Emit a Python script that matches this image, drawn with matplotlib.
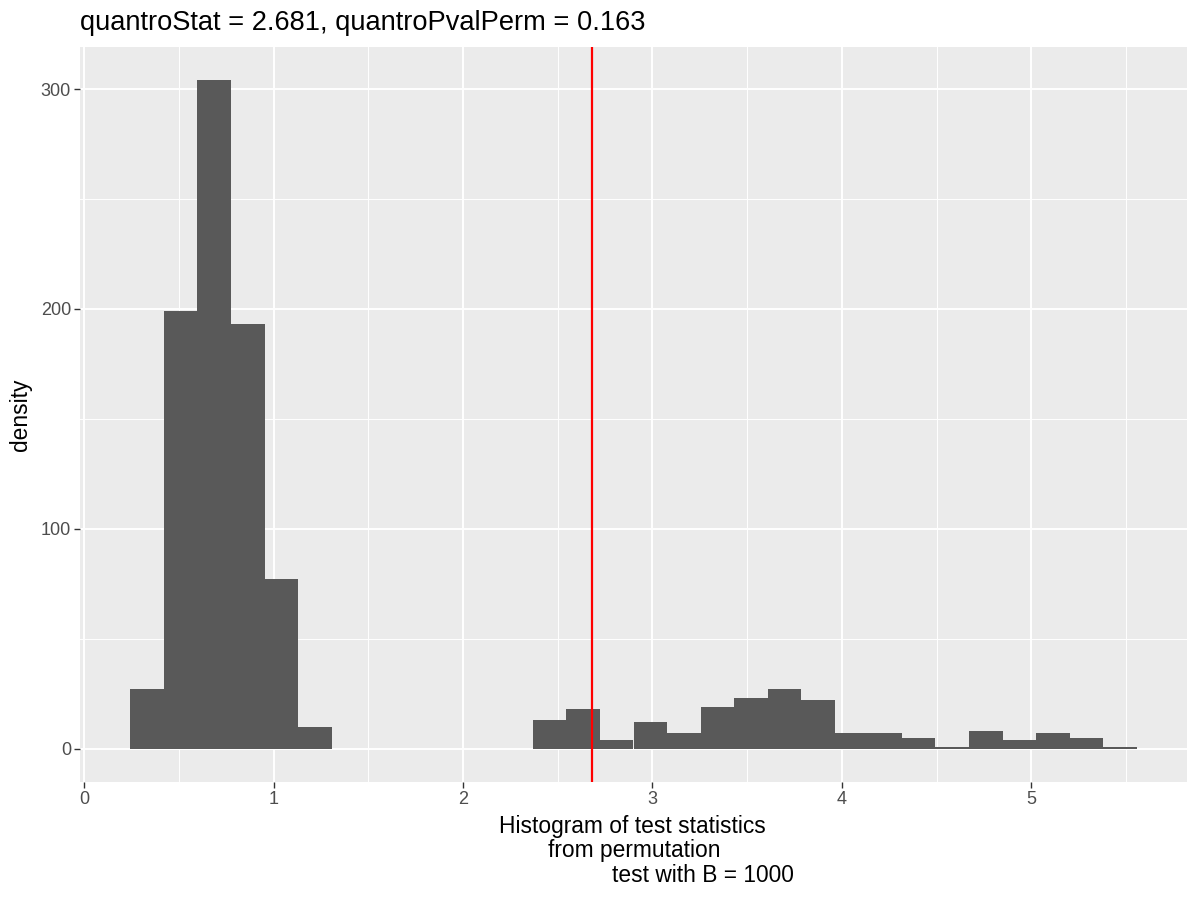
import numpy as np
import matplotlib
matplotlib.use("Agg")
import matplotlib.pyplot as plt

plt.rcParams['font.family'] = ['Liberation Sans', 'DejaVu Sans']

# ---- data ----
bin_start = 0.2435
bin_width = 0.1771
densities = [27, 199, 304, 193, 77, 10, 0, 0, 0, 0, 0, 0,
             13, 18, 4, 12, 7, 19, 23, 27, 22, 7, 7, 5, 0.8, 8, 4, 7, 5, 0.8]
quantro_stat = 2.681
quantro_pval = 0.163
B = 1000
x_ticks = [0, 1, 2, 3, 4, 5]
y_ticks = [0, 100, 200, 300]
title_text = f"quantroStat = {quantro_stat}, quantroPvalPerm = {quantro_pval}"
xlabel_lines = ["Histogram of test statistics", "from permutation", f"test with B = {B}"]
ylabel_text = "density"

edges = bin_start + bin_width * np.arange(len(densities) + 1)

fig = plt.figure(figsize=(12, 9), dpi=100)
ax = fig.add_axes([80 / 1200, 1 - 782 / 900, (1187 - 80) / 1200, (782 - 47) / 900])
ax.set_facecolor('#EBEBEB')

ax.bar(edges[:-1], densities, width=bin_width, align='edge', color='#595959',
       edgecolor='none', zorder=3)
ax.axvline(quantro_stat, color='#FF0000', linewidth=1.6, zorder=4)

# limits with ggplot-like expansion
xmin = min(edges[0], quantro_stat); xmax = max(edges[-1], quantro_stat)
xr = xmax - xmin
ax.set_xlim(xmin - 0.05 * xr, xmax + 0.05 * xr)
ymax = max(densities)
ax.set_ylim(-0.05 * ymax, ymax * 1.05)

ax.set_xticks(x_ticks)
ax.set_yticks(y_ticks)
ax.set_xticks([t + 0.5 for t in [-1] + x_ticks if -0.02 < t + 0.5 < 5.85], minor=True)
ax.set_yticks([50, 150, 250], minor=True)

ax.grid(which='major', color='white', linewidth=1.4, zorder=1)
ax.grid(which='minor', color='white', linewidth=0.7, zorder=1)
ax.set_axisbelow(True)
for s in ax.spines.values():
    s.set_visible(False)

ax.tick_params(which='major', length=4, width=1.0, color='#333333',
               labelcolor='#4D4D4D', labelsize=13, pad=2.5)
ax.tick_params(which='minor', length=0)

ax.set_ylabel(ylabel_text, fontsize=16.4, color='black')
ax.yaxis.set_label_coords((32 - 80) / 1107, 0.5)

fig.text(80 / 1200, 1 - 23 / 900, title_text, fontsize=19.6, ha='left', va='center',
         color='black')

line_centers = [(632, 826), (634, 850), (703, 875)]
for txt, (cx, cy) in zip(xlabel_lines, line_centers):
    fig.text(cx / 1200, 1 - cy / 900, txt, fontsize=16.4, ha='center', va='center',
             color='black')

fig.savefig('out.png', dpi=100)
